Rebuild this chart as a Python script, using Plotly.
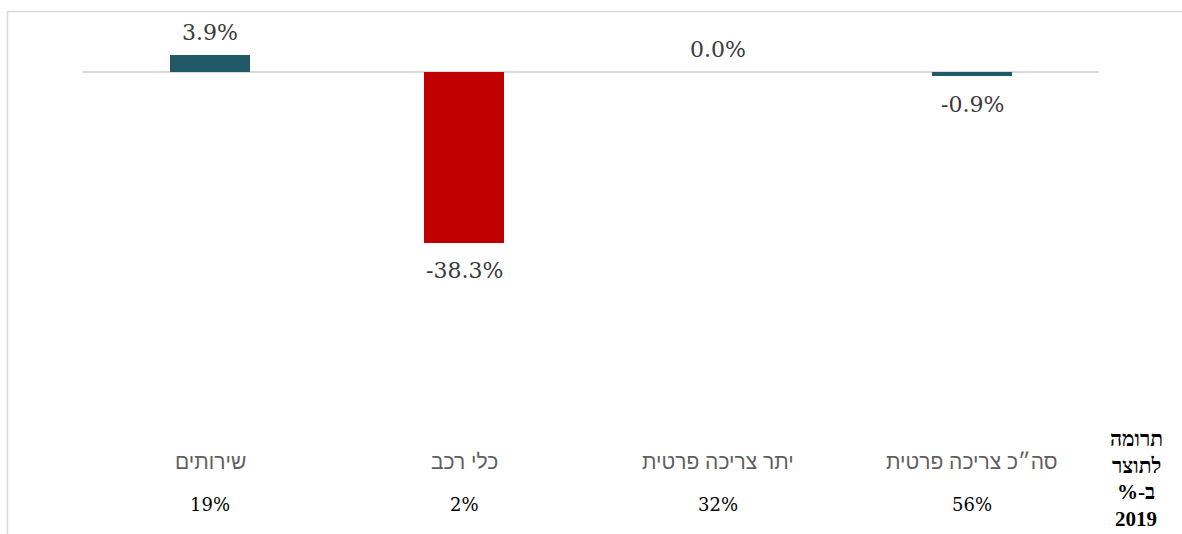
import plotly.graph_objects as go

# Contribution of private-consumption components (percent change)
categories = ["שירותים", "כלי רכב", "יתר צריכה פרטית", "סה״כ צריכה פרטית"]
values = [3.9, -38.3, 0.0, -0.9]
value_labels = ["3.9%", "-38.3%", "0.0%", "-0.9%"]
shares = ["19%", "2%", "32%", "56%"]
# side caption lines; the RLM keeps "ב-%" in right-to-left order
side_title = ["תרומה", "לתוצר", "ב-%\u200f", "2019"]

TEAL = "#215968"
RED = "#C00000"
colors = [RED if v < -10 else TEAL for v in values]

W, H = 1182, 534
PLOT_L, PLOT_R = 83, 1099
PLOT_T, PLOT_B = 19, 428.5
Y_RANGE = [-80, 12]


def py(pix):
    """Vertical pixel position -> paper coordinate."""
    return (PLOT_B - pix) / (PLOT_B - PLOT_T)


def px(pix):
    """Horizontal pixel position -> paper coordinate."""
    return (pix - PLOT_L) / (PLOT_R - PLOT_L)


fig = go.Figure(
    go.Bar(
        x=list(range(len(categories))),
        y=values,
        marker=dict(color=colors, line=dict(width=0)),
        width=0.315,
        hoverinfo="skip",
    )
)

annotations = []
for i, (v, lab) in enumerate(zip(values, value_labels)):
    annotations.append(dict(
        x=i, y=v, xref="x", yref="y", text=lab, showarrow=False,
        yanchor="middle", yshift=23 if v >= 0 else -28,
        font=dict(family="DejaVu Serif", size=22, color="#3a3a3a"),
    ))

for i, (cat, sh) in enumerate(zip(categories, shares)):
    annotations.append(dict(
        x=i, y=py(462), xref="x", yref="paper", text=cat, showarrow=False,
        yanchor="middle",
        font=dict(family="Liberation Sans, DejaVu Sans", size=21, color="#5f5f5f"),
    ))
    annotations.append(dict(
        x=i, y=py(505), xref="x", yref="paper", text=sh, showarrow=False,
        yanchor="middle",
        font=dict(family="DejaVu Serif", size=18, color="#000000"),
    ))

for k, line in enumerate(side_title):
    annotations.append(dict(
        x=px(1136), y=py(440 + 26.5 * k), xref="paper", yref="paper", text=line,
        showarrow=False, xanchor="center", yanchor="middle",
        font=dict(family="Liberation Serif, DejaVu Sans", size=21, color="#000000",
                  weight="bold"),
    ))

fig.update_layout(
    width=W, height=H,
    margin=dict(l=PLOT_L, r=W - PLOT_R, t=PLOT_T, b=H - PLOT_B, pad=0),
    paper_bgcolor="white", plot_bgcolor="white",
    showlegend=False,
    bargap=0,
    xaxis=dict(range=[-0.5, len(categories) - 0.5], showticklabels=False,
               showgrid=False, zeroline=False, showline=False, ticks=""),
    yaxis=dict(range=Y_RANGE, showticklabels=False, showgrid=False,
               zeroline=True, zerolinecolor="#D9D9D9", zerolinewidth=2,
               showline=False, ticks=""),
    annotations=annotations,
    shapes=[
        # outer chart frame (left and top edges)
        dict(type="line", xref="paper", yref="paper",
             x0=px(7.5), x1=px(7.5), y0=py(11.5), y1=py(540),
             line=dict(color="#D9D9D9", width=1.5), layer="below"),
        dict(type="line", xref="paper", yref="paper",
             x0=px(7.5), x1=px(1190), y0=py(11.5), y1=py(11.5),
             line=dict(color="#D9D9D9", width=1.5), layer="below"),
    ],
)

fig.write_html("out.html")
